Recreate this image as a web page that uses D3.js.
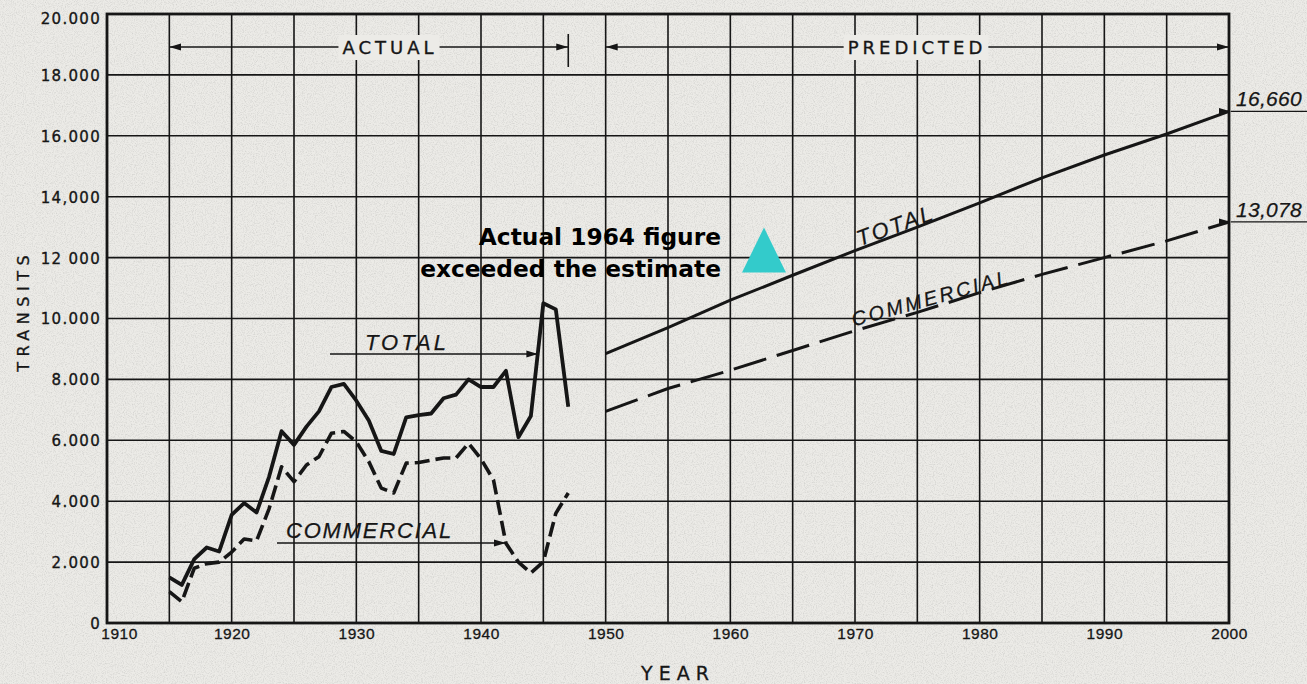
<!DOCTYPE html>
<html lang="en">
<head>
<meta charset="UTF-8">
<title>Panama Canal transits</title>
<script src="https://cdn.jsdelivr.net/npm/d3@7"></script>
<style>
  body { margin: 0; background: #ecebe7; }
  svg { display: block; }
</style>
</head>
<body>
<div id="chart"></div>
<script>
// --- data ---
const actualYears = d3.range(1915, 1948);
const totalActual = [1500, 1250, 2100, 2480, 2350, 3550, 3940, 3630, 4800, 6300, 5850, 6450, 6950, 7750, 7850,
  7300, 6650, 5650, 5550, 6750, 6830, 6880, 7380, 7500, 8000, 7750, 7750, 8280, 6100, 6800, 10500, 10300, 7100];
const commercialActual = [1030, 700, 1800, 1950, 2000, 2330, 2760, 2700, 3750, 5130, 4640, 5190, 5460, 6230, 6290,
  5950, 5300, 4430, 4270, 5250, 5270, 5350, 5420, 5420, 5900, 5390, 4700, 2620, 2000, 1640, 2010, 3600, 4270];

const predictedYears = [1950, 1955, 1960, 1965, 1970, 1975, 1980, 1985, 1990, 1995, 2000];
const totalPredicted = [8850, 9700, 10600, 11420, 12230, 13000, 13800, 14620, 15370, 16060, 16800];
const commercialPredicted = [6950, 7700, 8300, 8950, 9600, 10200, 10850, 11450, 12000, 12550, 13170];

const endLabels = ["16,660", "13,078"];
const yTicks = d3.range(0, 20001, 2000);
const yTickLabels = ["0", "2.000", "4.000", "6.000", "8.000", "10.000", "12 000", "14,000", "16.000", "18.000", "20.000"];
const xGridYears = d3.range(1910, 2001, 5);
const xLabelYears = d3.range(1910, 2001, 10);

const marker1964 = { year: 1962.7, value: 12000 };

const width = 1307, height = 684;
const ink = "#161616";
const paper = "#ecebe7";

const x = d3.scaleLinear().domain([1910, 2000]).range([107, 1229]);
const y = d3.scaleLinear().domain([0, 20000]).range([623, 14]);

const svg = d3.select("#chart").append("svg")
  .attr("width", width).attr("height", height);

const defs = svg.append("defs");
// paper speckle
const f = defs.append("filter").attr("id", "paper").attr("x", 0).attr("y", 0).attr("width", 1).attr("height", 1);
f.append("feTurbulence").attr("type", "fractalNoise").attr("baseFrequency", 0.9).attr("numOctaves", 2).attr("seed", 4);
f.append("feColorMatrix").attr("values", "0 0 0 0 0.55  0 0 0 0 0.55  0 0 0 0 0.53  0 0 0 -2.2 1.25");
f.append("feComposite").attr("in2", "SourceGraphic").attr("operator", "in");

["arrowR", "arrowL"].forEach(id => {
  defs.append("marker").attr("id", id)
    .attr("viewBox", "0 -5 12 10").attr("refX", 12).attr("refY", 0)
    .attr("markerWidth", 12).attr("markerHeight", 10).attr("markerUnits", "userSpaceOnUse")
    .attr("orient", id === "arrowR" ? 0 : 180)
    .append("path").attr("d", "M0,-3.5L12,0L0,3.5Z").attr("fill", ink);
});

svg.append("rect").attr("width", width).attr("height", height).attr("fill", paper);
svg.append("rect").attr("width", width).attr("height", height).attr("fill", "#fff").attr("filter", "url(#paper)").attr("opacity", 0.6);

// --- grid ---
const grid = svg.append("g").attr("stroke", ink).attr("stroke-width", 1.6);
grid.selectAll(".h").data(yTicks).join("line")
  .attr("x1", x(1910)).attr("x2", x(2000))
  .attr("y1", d => y(d)).attr("y2", d => y(d));
grid.selectAll(".v").data(xGridYears).join("line")
  .attr("x1", d => x(d)).attr("x2", d => x(d))
  .attr("y1", y(0)).attr("y2", y(20000));

// frame
svg.append("rect")
  .attr("x", x(1910)).attr("y", y(20000))
  .attr("width", x(2000) - x(1910)).attr("height", y(0) - y(20000))
  .attr("fill", "none").attr("stroke", ink).attr("stroke-width", 2.8);

// --- axes labels ---
const yAxis = svg.append("g").attr("transform", `translate(${x(1910)},0)`)
  .call(d3.axisLeft(y).tickValues(yTicks).tickSize(0).tickPadding(6).tickFormat((d, i) => yTickLabels[i]));
yAxis.select(".domain").remove();
yAxis.selectAll("text")
  .attr("font-family", "DejaVu Sans").attr("font-size", 15).attr("letter-spacing", 1.3)
  .attr("fill", ink).attr("stroke", ink).attr("stroke-width", 0.35)
  .attr("dy", (d, i) => i === yTicks.length - 1 ? "0.6em" : "0.36em");

const xAxis = svg.append("g").attr("transform", `translate(0,${y(0)})`)
  .call(d3.axisBottom(x).tickValues(xLabelYears).tickSize(0).tickPadding(5).tickFormat(d3.format("d")));
xAxis.select(".domain").remove();
xAxis.selectAll("text")
  .attr("font-family", "Liberation Sans").attr("font-size", 15.5).attr("letter-spacing", 0.5)
  .attr("fill", ink).attr("stroke", ink).attr("stroke-width", 0.3)
  .attr("dx", (d, i) => i === 0 ? 12 : 0);

svg.append("text")
  .attr("transform", `translate(29,${(y(8200) + y(12300)) / 2}) rotate(-90)`)
  .attr("text-anchor", "middle").attr("font-family", "DejaVu Sans").attr("font-size", 16)
  .attr("letter-spacing", 5.5).attr("fill", ink).attr("stroke", ink).attr("stroke-width", 0.3)
  .text("TRANSITS");

svg.append("text")
  .attr("x", 678).attr("y", 680).attr("text-anchor", "middle")
  .attr("font-family", "DejaVu Sans").attr("font-size", 19).attr("letter-spacing", 6)
  .attr("fill", ink).attr("stroke", ink).attr("stroke-width", 0.3).text("YEAR");

// --- ACTUAL / PREDICTED bands ---
const bandY = 47;
function band(x1, x2, label, cx, endTick) {
  svg.append("line").attr("x1", x1).attr("x2", x2).attr("y1", bandY).attr("y2", bandY)
    .attr("stroke", ink).attr("stroke-width", 1.5)
    .attr("marker-start", "url(#arrowL)").attr("marker-end", "url(#arrowR)");
  const t = svg.append("text").attr("x", cx).attr("y", bandY + 7).attr("text-anchor", "middle")
    .attr("font-family", "DejaVu Sans").attr("font-size", 18).attr("letter-spacing", 4)
    .attr("fill", ink).attr("stroke", ink).attr("stroke-width", 0.35).text(label);
  const bb = t.node().getBBox();
  svg.insert("rect", () => t.node())
    .attr("x", bb.x - 4).attr("y", bb.y - 2).attr("width", bb.width + 6).attr("height", bb.height + 4)
    .attr("fill", paper);
  if (endTick) {
    svg.append("line").attr("x1", x2).attr("x2", x2).attr("y1", bandY - 13).attr("y2", bandY + 20)
      .attr("stroke", ink).attr("stroke-width", 1.6);
  }
}
band(x(1915), x(1947), "ACTUAL", 390, true);
band(x(1950), x(2000), "PREDICTED", 917, false);

// --- series ---
const line = d3.line().x(d => x(d[0])).y(d => y(d[1]));
const zip = (a, b) => a.map((v, i) => [v, b[i]]);

svg.append("path").datum(zip(actualYears, totalActual))
  .attr("d", line).attr("fill", "none").attr("stroke", ink)
  .attr("stroke-width", 3.8).attr("stroke-linejoin", "round");
svg.append("path").datum(zip(actualYears, commercialActual))
  .attr("d", line).attr("fill", "none").attr("stroke", ink)
  .attr("stroke-width", 3.6).attr("stroke-dasharray", "15,6").attr("stroke-linejoin", "round");

svg.append("path").datum(zip(predictedYears, totalPredicted))
  .attr("d", line).attr("fill", "none").attr("stroke", ink).attr("stroke-width", 3);
svg.append("path").datum(zip(predictedYears, commercialPredicted))
  .attr("d", line).attr("fill", "none").attr("stroke", ink)
  .attr("stroke-width", 3).attr("stroke-dasharray", "34,11");

// --- series labels (actual) ---
const italic = sel => sel.attr("font-family", "Liberation Sans").attr("font-style", "italic")
  .attr("fill", ink).attr("stroke", ink).attr("stroke-width", 0.25);

function pointerLabel(text, tx, ty, size, ls, ax1, ax2, ay) {
  svg.append("text").attr("x", tx).attr("y", ty).attr("font-size", size).attr("letter-spacing", ls)
    .call(italic).text(text);
  svg.append("line").attr("x1", ax1).attr("x2", ax2).attr("y1", ay).attr("y2", ay)
    .attr("stroke", ink).attr("stroke-width", 1.3).attr("marker-end", "url(#arrowR)");
}
pointerLabel("TOTAL", 365, 350, 22, 3, 330, x(1944.6), 354);
pointerLabel("COMMERCIAL", 286, 538, 22, 1.8, 277, x(1942.0), 543);

// --- series labels (predicted), along the lines ---
function alongLabel(text, years, vals, startYear, size, ls, lift) {
  const ang = Math.atan2(y(vals[vals.length - 1]) - y(vals[0]), x(years[years.length - 1]) - x(years[0]));
  const px = x(startYear);
  const py = y(d3.scaleLinear().domain(d3.extent(years)).range([vals[0], vals[vals.length - 1]])(startYear));
  svg.append("text")
    .attr("transform", `translate(${px},${py}) rotate(${ang * 180 / Math.PI + 1.5}) translate(0,${-lift})`)
    .attr("font-size", size).attr("letter-spacing", ls).call(italic).text(text);
}
alongLabel("TOTAL", predictedYears, totalPredicted, 1970.6, 22, 2.5, 8);
alongLabel("COMMERCIAL", predictedYears, commercialPredicted, 1970.1, 20, 2.8, 9);

// --- end values ---
[totalPredicted, commercialPredicted].forEach((vals, i) => {
  const ey = y(vals[vals.length - 1]);
  svg.append("line").attr("x1", width).attr("x2", x(2000) + 2).attr("y1", ey).attr("y2", ey)
    .attr("stroke", ink).attr("stroke-width", 1.3).attr("marker-end", "url(#arrowR)");
  svg.append("text").attr("x", x(2000) + 7).attr("y", ey - 5)
    .attr("font-size", 21).attr("letter-spacing", 0.3).call(italic).text(endLabels[i]);
});

// --- 1964 annotation ---
const mx = x(marker1964.year), my = y(marker1964.value);
svg.append("path")
  .attr("d", `M${mx},${my - 30}L${mx + 22},${my + 15}L${mx - 22},${my + 15}Z`)
  .attr("fill", "#33cbcb");
const note = svg.append("text").attr("text-anchor", "end")
  .attr("font-family", "DejaVu Sans").attr("font-weight", "bold").attr("font-size", 23.3).attr("fill", "#000");
note.append("tspan").attr("x", mx - 43).attr("y", my - 13).text("Actual 1964 figure");
note.append("tspan").attr("x", mx - 43).attr("y", my + 19).text("exceeded the estimate");
</script>
</body>
</html>
